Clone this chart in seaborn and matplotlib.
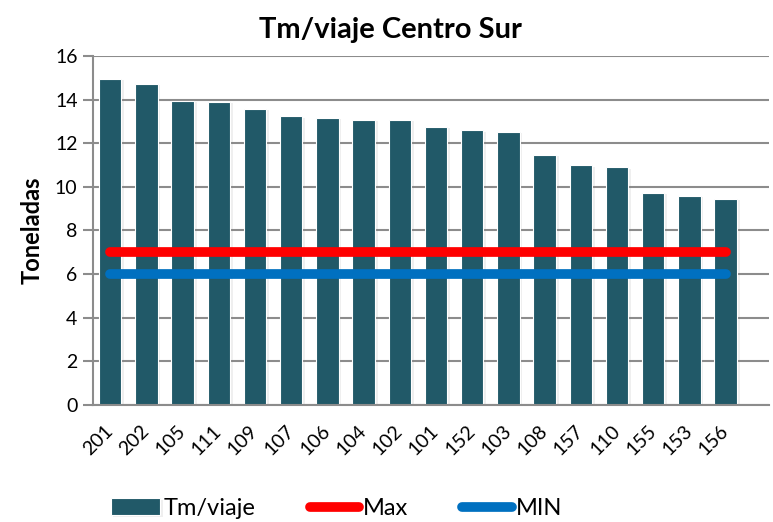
import matplotlib
matplotlib.use("Agg")
import matplotlib.pyplot as plt
import matplotlib.patheffects as pe
import seaborn as sns

# Data
codigos = ["201", "202", "105", "111", "109", "107", "106", "104", "102",
           "101", "152", "103", "108", "157", "110", "155", "153", "156"]
tm_viaje = [14.94, 14.71, 13.93, 13.90, 13.58, 13.23, 13.15, 13.07, 13.06,
            12.74, 12.58, 12.51, 11.48, 10.98, 10.90, 9.72, 9.59, 9.44]
maximo = 7
minimo = 6

sns.set_style("white")
plt.rcParams["font.family"] = ["Lato", "DejaVu Sans"]
plt.rcParams["text.color"] = "black"
plt.rcParams["axes.labelcolor"] = "black"

fig = plt.figure(figsize=(7.73, 5.22), dpi=100)
ax = fig.add_axes([0.120, 0.224, 0.875, 0.669])

ax.yaxis.grid(True, color="#8c8c8c", linewidth=1.5, zorder=0)
ax.set_axisbelow(True)

sns.barplot(x=codigos, y=tm_viaje, color="#215968", saturation=1,
            width=0.62, ax=ax, label="Tm/viaje", zorder=2,
            edgecolor="white", linewidth=0.8)
for bar in ax.patches:
    bar.set_path_effects([pe.SimplePatchShadow(offset=(2, -1), alpha=0.12,
                                               shadow_rgbFace="#7f7f7f"),
                          pe.Normal()])

n = len(codigos)
ax.plot([0, n - 1], [maximo, maximo], color="#ff0000", linewidth=7,
        solid_capstyle="round", label="Max", zorder=3)
ax.plot([0, n - 1], [minimo, minimo], color="#0070c0", linewidth=7,
        solid_capstyle="round", label="MIN", zorder=3)

ax.set_ylim(0, 16)
ax.set_yticks(range(0, 17, 2))
ax.set_xlim(-0.48, 18.2)

for s in ["top", "right"]:
    ax.spines[s].set_visible(False)
for s in ["left", "bottom"]:
    ax.spines[s].set_color("#8c8c8c")
    ax.spines[s].set_linewidth(1.5)

ax.tick_params(axis="y", which="major", left=True, length=7, width=1.5,
               color="#8c8c8c", labelsize=14, labelcolor="black", pad=4)
ax.tick_params(axis="x", bottom=False, labelsize=14, labelcolor="black", pad=13)
plt.setp(ax.get_xticklabels(), rotation=45, ha="right", va="center",
         rotation_mode="anchor")

ax.set_xlabel("")
ax.set_ylabel("Toneladas", fontsize=17, fontweight="bold", labelpad=8)
ax.set_title("Tm/viaje Centro Sur", fontsize=21, fontweight="bold", pad=13,
             x=0.44)

handles, labels = ax.get_legend_handles_labels()
order = [labels.index(k) for k in ["Tm/viaje", "Max", "MIN"]]
if ax.get_legend() is not None:
    ax.get_legend().remove()
fig.legend([handles[i] for i in order], [labels[i] for i in order],
           loc="lower center", bbox_to_anchor=(0.435, -0.035),
           ncol=3, frameon=False, fontsize=17, handlelength=2.1,
           handleheight=0.75, handletextpad=0.15, columnspacing=2.3)

fig.savefig("out.png", dpi=100)
